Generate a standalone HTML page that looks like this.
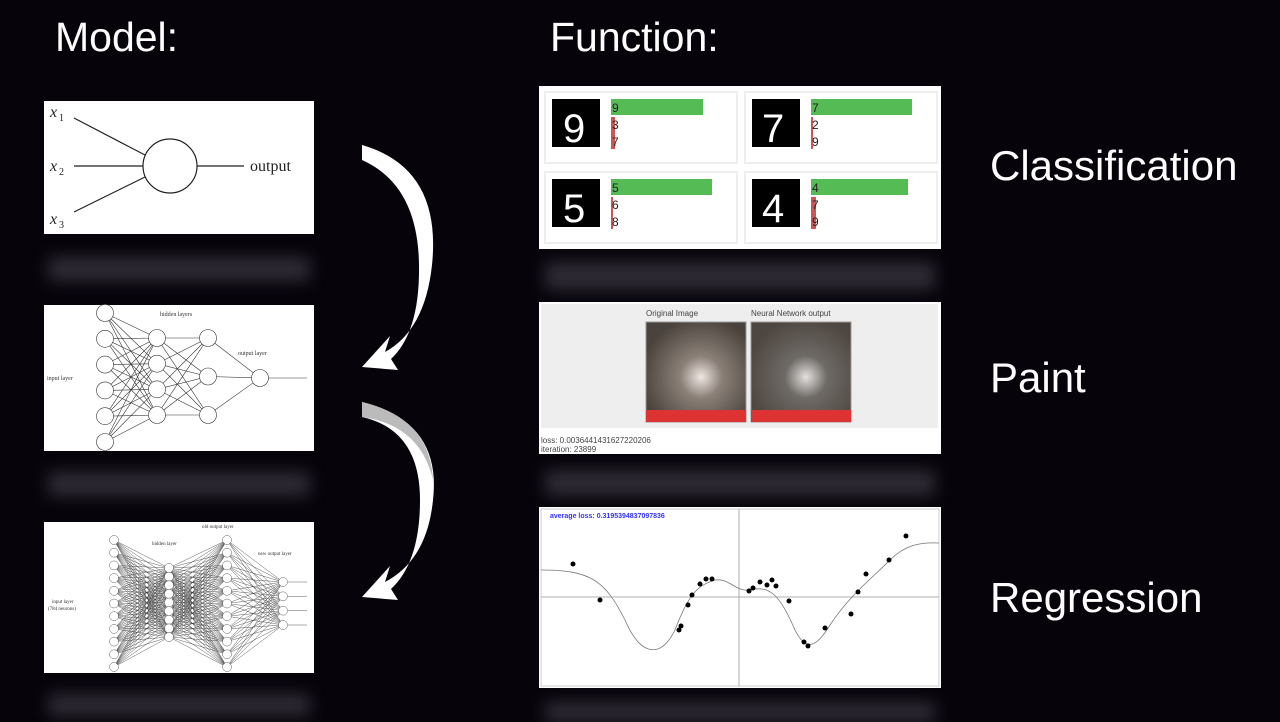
<!DOCTYPE html>
<html><head><meta charset="utf-8"><style>
body{margin:0;width:1280px;height:720px;background:#06030b;overflow:hidden;position:relative;font-family:"Liberation Sans",sans-serif}
.t{position:absolute;color:#fff;font-size:41px}
.p{position:absolute;background:#fff}
.r{position:absolute;background:#3a3640;filter:blur(8px);opacity:.8}
svg{position:absolute;left:0;top:0}
</style></head><body>
<div class="t" style="left:55px;top:14px">Model:</div>
<div class="t" style="left:550px;top:14px">Function:</div>
<div class="t" style="left:990px;top:142px;font-size:42px">Classification</div>
<div class="t" style="left:990px;top:354px;font-size:42px">Paint</div>
<div class="t" style="left:990px;top:574px;font-size:42px">Regression</div>

<div class="r" style="left:48px;top:257px;width:262px;height:24px"></div>
<div class="r" style="left:48px;top:472px;width:262px;height:24px"></div>
<div class="r" style="left:48px;top:694px;width:262px;height:22px"></div>
<div class="r" style="left:545px;top:262px;width:390px;height:28px"></div>
<div class="r" style="left:545px;top:470px;width:390px;height:26px"></div>
<div class="r" style="left:545px;top:702px;width:390px;height:20px"></div>

<div class="p" style="left:44px;top:101px;width:270px;height:133px"></div>
<div class="p" style="left:44px;top:305px;width:270px;height:146px"></div>
<div class="p" style="left:44px;top:522px;width:270px;height:151px"></div>
<div class="p" style="left:539px;top:86px;width:402px;height:163px"></div>
<div class="p" style="left:539px;top:302px;width:402px;height:152px"></div>
<div class="p" style="left:539px;top:507px;width:402px;height:181px"></div>

<svg width="1280" height="720" id="s">
<g font-family="Liberation Serif,serif" fill="#222">
<text x="50" y="117" font-size="16" font-style="italic">x</text><text x="59" y="121" font-size="10">1</text>
<text x="50" y="171" font-size="16" font-style="italic">x</text><text x="59" y="175" font-size="10">2</text>
<text x="50" y="224" font-size="16" font-style="italic">x</text><text x="59" y="228" font-size="10">3</text>
<text x="250" y="171" font-size="16">output</text>
</g>
<g stroke="#222" fill="none" stroke-width="1.2">
<circle cx="170" cy="166" r="27"/>
<line x1="74" y1="118" x2="145" y2="155"/><line x1="74" y1="166" x2="143" y2="166"/><line x1="74" y1="212" x2="145" y2="177"/>
<line x1="197" y1="166" x2="244" y2="166"/>
</g>
<g id="nn1" stroke="#333" fill="none" stroke-width=".6"></g>
<g id="nn2" stroke="#333" fill="none" stroke-width=".4"></g>
<g font-family="Liberation Serif,serif" font-size="6" fill="#333">
<text x="160" y="316">hidden layers</text><text x="238" y="355">output layer</text><text x="47" y="380">input layer</text>
<text x="202" y="528" font-size="5">old output layer</text><text x="152" y="545" font-size="5">hidden layer</text><text x="258" y="555" font-size="5">new output layer</text>
<text x="52" y="603" font-size="5">input layer</text><text x="48" y="610" font-size="5">(784 neurons)</text>
</g>
<!-- arrows -->
<path d="M362 145 Q442 168 432 265 Q425 330 385 352 L390 336 L362 367 L398 370 L391 359 Q420 332 419 265 Q418 185 362 160Z" fill="#fff"/>
<path d="M362 402 Q442 422 433 500 Q427 560 385 582 L390 566 L362 597 L398 600 L391 589 Q420 562 420 500 Q420 430 362 417Z" fill="#fff"/>
<path d="M362 402 Q430 418 433 480 Q420 425 362 417Z" fill="#bbb"/>
<!-- classification -->
<g stroke="#eee" fill="none" stroke-width="2"><rect x="545" y="92" width="192" height="71"/><rect x="745" y="92" width="192" height="71"/><rect x="545" y="172" width="192" height="71"/><rect x="745" y="172" width="192" height="71"/></g>
<g fill="#000"><rect x="552" y="99" width="48" height="48"/><rect x="752" y="99" width="48" height="48"/><rect x="552" y="179" width="48" height="48"/><rect x="752" y="179" width="48" height="48"/></g>
<g fill="#fff" font-size="40" font-family="Liberation Sans,sans-serif"><text x="563" y="142">9</text><text x="762" y="142">7</text><text x="563" y="222">5</text><text x="762" y="222">4</text></g>
<g fill="#55bb55"><rect x="611" y="99" width="92" height="16"/><rect x="811" y="99" width="101" height="16"/><rect x="611" y="179" width="101" height="16"/><rect x="811" y="179" width="97" height="16"/></g>
<g fill="#c55"><rect x="611" y="117" width="4" height="32"/><rect x="811" y="117" width="2" height="32"/><rect x="611" y="197" width="2" height="32"/><rect x="811" y="197" width="5" height="32"/></g>
<g font-size="12" fill="#222"><text x="612" y="112">9</text><text x="612" y="129">3</text><text x="612" y="146">7</text><text x="812" y="112">7</text><text x="812" y="129">2</text><text x="812" y="146">9</text><text x="612" y="192">5</text><text x="612" y="209">6</text><text x="612" y="226">8</text><text x="812" y="192">4</text><text x="812" y="209">7</text><text x="812" y="226">9</text></g>
<!-- paint -->
<rect x="541" y="304" width="397" height="124" fill="#eee"/>
<defs><radialGradient id="c" cx=".55" cy=".55" r=".6"><stop offset="0" stop-color="#f0e6e2"/><stop offset=".35" stop-color="#8a8078"/><stop offset="1" stop-color="#4a423c"/></radialGradient>
<radialGradient id="c2" cx=".55" cy=".55" r=".6"><stop offset="0" stop-color="#e4e0de"/><stop offset=".35" stop-color="#6e6a66"/><stop offset="1" stop-color="#4e4640"/></radialGradient></defs>
<rect x="646" y="322" width="100" height="100" fill="url(#c)" stroke="#999"/><rect x="646" y="410" width="100" height="12" fill="#d33"/>
<rect x="751" y="322" width="100" height="100" fill="url(#c2)" stroke="#999"/><rect x="751" y="410" width="100" height="12" fill="#d33"/>
<g font-size="8" fill="#444"><text x="646" y="316">Original Image</text><text x="751" y="316">Neural Network output</text><text x="541" y="443">loss: 0.0036441431627220206</text><text x="541" y="452">iteration: 23899</text></g>
<!-- regression -->
<rect x="541" y="509" width="398" height="177" fill="none" stroke="#ccc"/>
<line x1="541" y1="597" x2="939" y2="597" stroke="#999" stroke-width=".8"/><line x1="739" y1="509" x2="739" y2="686" stroke="#999" stroke-width=".8"/>
<text x="550" y="518" font-size="7" font-weight="bold" fill="#33f">average loss: 0.3195394837097836</text>
<path d="M541 570 C590 570 605 580 625 620 C640 655 660 660 675 630 C690 590 700 585 715 580 C730 578 735 592 750 590 C770 585 780 595 795 630 C805 650 815 650 830 625 C850 595 870 580 890 560 C905 545 920 542 939 543" fill="none" stroke="#777" stroke-width=".8"/>
<g fill="#000"><circle cx="573" cy="564" r="2.5"/><circle cx="600" cy="600" r="2.5"/><circle cx="679" cy="630" r="2.5"/><circle cx="681" cy="626" r="2.5"/><circle cx="688" cy="605" r="2.5"/><circle cx="692" cy="595" r="2.5"/><circle cx="700" cy="584" r="2.5"/><circle cx="706" cy="579" r="2.5"/><circle cx="712" cy="579" r="2.5"/><circle cx="749" cy="591" r="2.5"/><circle cx="753" cy="588" r="2.5"/><circle cx="760" cy="582" r="2.5"/><circle cx="767" cy="585" r="2.5"/><circle cx="772" cy="580" r="2.5"/><circle cx="776" cy="586" r="2.5"/><circle cx="789" cy="601" r="2.5"/><circle cx="804" cy="642" r="2.5"/><circle cx="808" cy="646" r="2.5"/><circle cx="825" cy="628" r="2.5"/><circle cx="851" cy="614" r="2.5"/><circle cx="858" cy="592" r="2.5"/><circle cx="866" cy="574" r="2.5"/><circle cx="889" cy="560" r="2.5"/><circle cx="906" cy="536" r="2.5"/></g>
</svg>
<script>
function net(g,layers,r){var s="";for(var l=0;l<layers.length-1;l++)for(var a of layers[l][1])for(var b of layers[l+1][1])s+='<line x1="'+layers[l][0]+'" y1="'+a+'" x2="'+layers[l+1][0]+'" y2="'+b+'"/>';
for(var L of layers)for(var y of L[1])s+='<circle cx="'+L[0]+'" cy="'+y+'" r="'+r+'" fill="#fff"/>';document.getElementById(g).innerHTML=s;}
function rng(a,b,n){var o=[];for(var i=0;i<n;i++)o.push(a+(b-a)*i/(n-1));return o;}
net("nn1",[[105,rng(313,442,6)],[157,rng(338,415,4)],[208,rng(338,415,3)],[260,[378]]],8.5);
document.getElementById("nn1").innerHTML+='<line x1="268" y1="378" x2="307" y2="378"/>';
net("nn2",[[114,rng(540,667,11)],[169,rng(568,637,9)],[227,rng(540,667,11)],[283,rng(582,625,4)]],4.5);
var e="";for(var y of rng(582,625,4))e+='<line x1="288" y1="'+y+'" x2="307" y2="'+y+'"/>';document.getElementById("nn2").innerHTML+=e;
</script>
</body></html>
